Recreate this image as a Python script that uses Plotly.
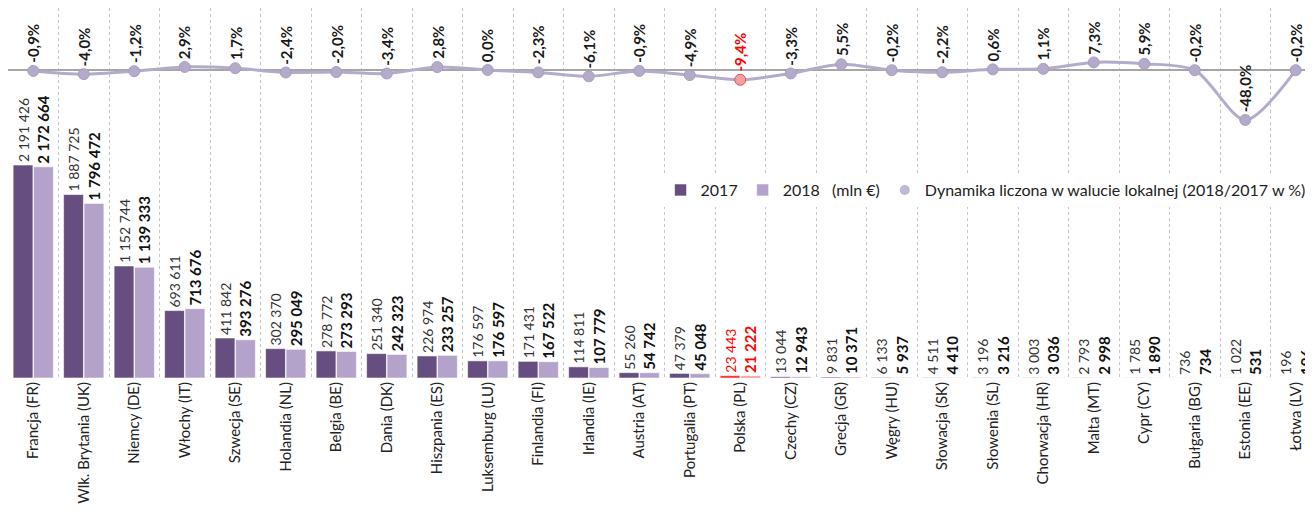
import plotly.graph_objects as go

countries = ["Francja (FR)", "Wlk. Brytania (UK)", "Niemcy (DE)", "Włochy (IT)", "Szwecja (SE)",
             "Holandia (NL)", "Belgia (BE)", "Dania (DK)", "Hiszpania (ES)", "Luksemburg (LU)",
             "Finlandia (FI)", "Irlandia (IE)", "Austria (AT)", "Portugalia (PT)", "Polska (PL)",
             "Czechy (CZ)", "Grecja (GR)", "Węgry (HU)", "Słowacja (SK)", "Słowenia (SL)",
             "Chorwacja (HR)", "Malta (MT)", "Cypr (CY)", "Bułgaria (BG)", "Estonia (EE)", "Łotwa (LV)"]

v2017 = [2191426, 1887725, 1152744, 693611, 411842, 302370, 278772, 251340, 226974, 176597,
         171431, 114811, 55260, 47379, 23443, 13044, 9831, 6133, 4511, 3196,
         3003, 2793, 1785, 736, 1022, 196]

v2018 = [2172664, 1796472, 1139333, 713676, 393276, 295049, 273293, 242323, 233257, 176597,
         167522, 107779, 54742, 45048, 21222, 12943, 10371, 5937, 4410, 3216,
         3036, 2998, 1890, 734, 531, 196]

dynamika = [-0.9, -4.0, -1.2, 2.9, 1.7, -2.4, -2.0, -3.4, 2.8, 0.0,
            -2.3, -6.1, -0.9, -4.9, -9.4, -3.3, 5.5, -0.2, -2.2, 0.6,
            1.1, 7.3, 5.9, -0.2, -48.0, -0.2]

FONT = "Lato"


def fmt(v):
    return format(v, ",").replace(",", " ")


is_pl = [c == "Polska (PL)" for c in countries]

col17 = ["#ff1a1a" if p else "#664e80" for p in is_pl]
col18 = ["#ff8a8a" if p else "#b3a3ca" for p in is_pl]
txt_col = ["#ff0000" if p else "#333333" for p in is_pl]
txt_col18 = ["#ff0000" if p else "#111111" for p in is_pl]

fig = go.Figure()

fig.add_trace(go.Bar(
    x=countries, y=v2017, name="2017",
    marker=dict(color=col17, line=dict(color="white", width=0.6)),
    text=[fmt(v) for v in v2017], textposition="outside", textangle=-90,
    textfont=dict(family=FONT, size=14, color=txt_col), constraintext="none",
    cliponaxis=False,
))
fig.add_trace(go.Bar(
    x=countries, y=v2018, name="2018   (mln €)",
    marker=dict(color=col18, line=dict(color="white", width=0.6)),
    text=["<b>" + fmt(v) + "</b>" for v in v2018], textposition="outside", textangle=-90,
    textfont=dict(family=FONT, size=15, color=txt_col18), constraintext="none",
    cliponaxis=False,
))

# dynamics line (legend shown through a marker-only dummy)
fig.add_trace(go.Scatter(
    x=countries, y=dynamika, yaxis="y2", mode="lines+markers", showlegend=False,
    line=dict(color="#b4abcb", width=3, shape="spline", smoothing=0.8),
    marker=dict(size=11, color=["#f4a0a0" if p else "#b4abcb" for p in is_pl],
                line=dict(color=["#e05050" if p else "#a89fc0" for p in is_pl], width=1)),
    cliponaxis=False,
))
fig.add_trace(go.Scatter(
    x=[countries[0]], y=[None], yaxis="y2", mode="markers",
    name="Dynamika liczona w walucie lokalnej (2018/2017 w %)",
    marker=dict(size=10, color="#c0b8d4"),
))

for c, d, p in zip(countries, dynamika, is_pl):
    fig.add_annotation(
        x=c, y=d, xref="x", yref="y2", showarrow=False, textangle=-90,
        text="<b>" + f"{d:.1f}%".replace(".", ",") + "</b>",
        font=dict(family=FONT, size=15, color="#ff0000" if p else "#1a1a1a"),
        yanchor="bottom", yshift=6,
    )

fig.update_layout(
    width=1313, height=519,
    margin=dict(l=0, r=0, t=0, b=149),
    paper_bgcolor="white", plot_bgcolor="white",
    barmode="group", bargap=0.19, bargroupgap=0.03,
    font=dict(family=FONT, size=14, color="#222222"),
    xaxis=dict(
        range=[-0.5, 25.5], tickangle=-90, tickson="boundaries", automargin=False,
        showgrid=True, gridcolor="#c4c4c4", griddash="dot", gridwidth=1,
        ticks="", showline=False, tickfont=dict(family=FONT, size=15, color="#222222"),
    ),
    yaxis=dict(range=[0, 3806700], showgrid=False, zeroline=False, showticklabels=False,
               automargin=False),
    yaxis2=dict(range=[-295.7, 59.5], overlaying="y", showgrid=False, zeroline=True,
                zerolinecolor="#a6a6a6", zerolinewidth=1.5, showticklabels=False,
                automargin=False),
    legend=dict(
        orientation="h", x=0.497, y=0.508, xanchor="left", yanchor="middle",
        bgcolor="white", font=dict(family=FONT, size=16, color="#222222"),
        itemwidth=30, traceorder="normal",
    ),
    showlegend=True,
)

fig.write_html("out.html")
